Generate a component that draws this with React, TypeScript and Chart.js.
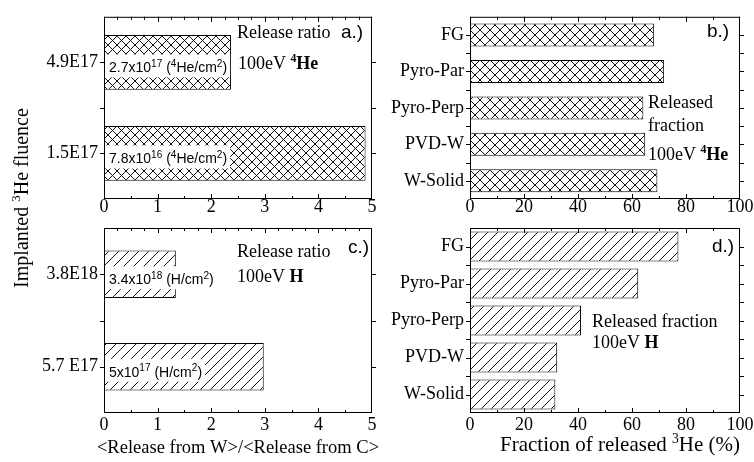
import React, { useEffect, useRef } from 'react';
import { Chart, registerables } from 'chart.js';

Chart.register(...registerables);

// ---------------- data ----------------
const heFluenceLabels = ['4.9E17', '1.5E17'];
const heRatio = [2.37, 4.88];
const heDoseMantissa = ['2.7', '7.8'];
const heDoseExponent = ['17', '16'];

const hFluenceLabels = ['3.8E18', '5.7 E17'];
const hRatio = [1.34, 2.98];
const hDoseMantissa = ['3.4', '5'];
const hDoseExponent = ['18', '17'];

const materials = ['FG', 'Pyro-Par', 'Pyro-Perp', 'PVD-W', 'W-Solid'];
const heFraction = [68.1, 71.9, 64.2, 64.9, 69.4];
const hFraction = [77.2, 62.3, 41.1, 32.3, 31.6];

const ratioTicks = [0, 1, 2, 3, 4, 5];
const fractionTicks = [0, 20, 40, 60, 80, 100];

// ---------------- styling helpers ----------------
const W = 754;
const H = 462;
const SERIF = "'Liberation Serif', 'Times New Roman', serif";
const SANS = "'Liberation Sans', Arial, sans-serif";

type Seg = { t: string; sup?: boolean; bold?: boolean };

function segFont(s: Seg, size: number, family: string, supScale: number) {
  const sz = s.sup ? size * supScale : size;
  return `${s.bold ? 'bold ' : ''}${sz}px ${family}`;
}

function richWidth(ctx: CanvasRenderingContext2D, segs: Seg[], size: number, family: string, supScale = 0.65) {
  let w = 0;
  for (const s of segs) {
    ctx.font = segFont(s, size, family, supScale);
    w += ctx.measureText(s.t).width;
  }
  return w;
}

function drawRich(
  ctx: CanvasRenderingContext2D,
  segs: Seg[],
  x: number,
  y: number,
  size: number,
  family: string,
  align: 'left' | 'center' = 'left',
  supScale = 0.65
) {
  const total = richWidth(ctx, segs, size, family, supScale);
  let cx = align === 'center' ? x - total / 2 : x;
  ctx.textAlign = 'left';
  ctx.textBaseline = 'alphabetic';
  for (const s of segs) {
    ctx.font = segFont(s, size, family, supScale);
    ctx.fillText(s.t, cx, s.sup ? y - size * 0.38 : y);
    cx += ctx.measureText(s.t).width;
  }
  return total;
}

function makeHatch(kind: 'cross' | 'diag', p: number): CanvasPattern {
  const c = document.createElement('canvas');
  c.width = p;
  c.height = p;
  const g = c.getContext('2d') as CanvasRenderingContext2D;
  g.fillStyle = '#ffffff';
  g.fillRect(0, 0, p, p);
  g.strokeStyle = '#111111';
  g.lineWidth = 1;
  g.beginPath();
  g.moveTo(-1, p + 1);
  g.lineTo(p + 1, -1);
  if (kind === 'cross') {
    g.moveTo(-1, -1);
    g.lineTo(p + 1, p + 1);
  }
  g.stroke();
  return g.createPattern(c, 'repeat') as CanvasPattern;
}

interface PanelCfg {
  area: { l: number; t: number; r: number; b: number };
  labels: string[];
  values: number[];
  xTicks: number[];
  minorTop: number;
  minorBottom: number;
  pattern: CanvasPattern;
  barFrac: number;
  tickLineHeight: number;
  draw: (chart: Chart) => void;
  inner?: (chart: Chart) => void;
}

function drawFrame(chart: Chart, cfg: PanelCfg) {
  const ctx = chart.ctx;
  const { left, right, top, bottom } = chart.chartArea;
  const xs: any = chart.scales.x;
  const ys: any = chart.scales.y;
  ctx.save();
  ctx.strokeStyle = '#000';
  ctx.lineWidth = 1;
  ctx.strokeRect(left + 0.5, top + 0.5, right - left - 1, bottom - top - 1);
  ctx.beginPath();
  const step = cfg.xTicks[1] - cfg.xTicks[0];
  const addX = (minor: number, y0: number, dir: number) => {
    const n = Math.round((xs.max - xs.min) / minor);
    for (let k = 0; k <= n; k++) {
      const v = xs.min + k * minor;
      let px = Math.round(xs.getPixelForValue(v)) + 0.5;
      px = Math.min(Math.max(px, left + 0.5), right - 0.5);
      const isMajor = Math.abs(v / step - Math.round(v / step)) < 1e-6;
      const len = isMajor ? 5 : 3;
      ctx.moveTo(px, y0);
      ctx.lineTo(px, y0 + dir * len);
    }
  };
  addX(cfg.minorBottom, bottom, -1);
  addX(cfg.minorTop, top, 1);
  const n = ys.getLabels().length;
  const addY = (py: number) => {
    const y = Math.round(py) + 0.5;
    ctx.moveTo(left, y);
    ctx.lineTo(left - 4, y);
    ctx.moveTo(right, y);
    ctx.lineTo(right + 4, y);
  };
  for (let i = 0; i < n; i++) addY(ys.getPixelForValue(i));
  for (let i = 1; i < n; i++) addY(ys.getPixelForValue(i - 0.5));
  ctx.stroke();
  ctx.restore();
}

function makeChart(canvas: HTMLCanvasElement, cfg: PanelCfg) {
  const a = cfg.area;
  const yW = 90;
  const xH = 30;
  return new Chart(canvas, {
    type: 'bar',
    data: {
      labels: cfg.labels,
      datasets: [
        {
          data: cfg.values,
          backgroundColor: cfg.pattern as any,
          borderColor: '#000',
          borderWidth: 1,
          borderSkipped: false,
          barPercentage: 1,
          categoryPercentage: cfg.barFrac,
        },
      ],
    },
    options: {
      indexAxis: 'y',
      responsive: false,
      animation: false,
      devicePixelRatio: 1,
      layout: {
        padding: { left: a.l - yW, top: a.t, right: W - a.r, bottom: H - a.b - xH },
      },
      plugins: { legend: { display: false }, tooltip: { enabled: false } },
      scales: {
        x: {
          type: 'linear',
          min: cfg.xTicks[0],
          max: cfg.xTicks[cfg.xTicks.length - 1],
          afterBuildTicks: (s: any) => {
            s.ticks = cfg.xTicks.map((v) => ({ value: v }));
          },
          afterFit: (s: any) => {
            s.height = xH;
          },
          grid: { display: false, drawTicks: false },
          border: { display: false },
          ticks: {
            color: '#000',
            font: { family: SERIF, size: 18, lineHeight: cfg.tickLineHeight },
            padding: 0,
            maxRotation: 0,
            minRotation: 0,
            autoSkip: false,
          },
        },
        y: {
          type: 'category',
          afterFit: (s: any) => {
            s.width = yW;
          },
          grid: { display: false, drawTicks: false },
          border: { display: false },
          ticks: {
            color: '#000',
            font: { family: SERIF, size: 18 },
            padding: 6,
            autoSkip: false,
          },
        },
      },
    } as any,
    plugins: [
      {
        id: 'deco',
        afterDatasetsDraw(chart: Chart) {
          if (cfg.inner) cfg.inner(chart);
        },
        afterDraw(chart: Chart) {
          drawFrame(chart, cfg);
          chart.ctx.save();
          chart.ctx.fillStyle = '#000';
          cfg.draw(chart);
          chart.ctx.restore();
        },
      },
    ],
  });
}

function innerLabels(chart: Chart, mant: string[], exps: string[], species: string) {
  const ctx = chart.ctx;
  const xs: any = chart.scales.x;
  const ys: any = chart.scales.y;
  mant.forEach((m, i) => {
    const segs: Seg[] =
      species === 'He'
        ? [
            { t: m + 'x10' },
            { t: exps[i], sup: true },
            { t: ' (' },
            { t: '4', sup: true },
            { t: 'He/cm' },
            { t: '2', sup: true },
            { t: ')' },
          ]
        : [{ t: m + 'x10' }, { t: exps[i], sup: true }, { t: ' (H/cm' }, { t: '2', sup: true }, { t: ')' }];
    const cy = ys.getPixelForValue(i) + 5;
    const x0 = xs.left + 5;
    const w = richWidth(ctx, segs, 14, SANS, 0.72);
    ctx.save();
    ctx.fillStyle = '#fff';
    ctx.fillRect(xs.left + 1, cy - 13, w + 7, 23);
    ctx.fillStyle = '#000';
    drawRich(ctx, segs, x0, cy + 5, 14, SANS, 'left', 0.72);
    ctx.restore();
  });
}

export default function App() {
  const r1 = useRef<HTMLCanvasElement>(null);
  const r2 = useRef<HTMLCanvasElement>(null);
  const r3 = useRef<HTMLCanvasElement>(null);
  const r4 = useRef<HTMLCanvasElement>(null);

  useEffect(() => {
    const cross9 = makeHatch('cross', 9);
    const cross10 = makeHatch('cross', 10);
    const diag10 = makeHatch('diag', 10);

    const charts: Chart[] = [];

    charts.push(
      makeChart(r1.current as HTMLCanvasElement, {
        area: { l: 104, t: 11, r: 372, b: 199 },
        labels: heFluenceLabels,
        values: heRatio,
        xTicks: ratioTicks,
        minorTop: 0.25,
        minorBottom: 0.5,
        pattern: cross9,
        barFrac: 0.6,
        tickLineHeight: 0.95,
        inner: (c) => innerLabels(c, heDoseMantissa, heDoseExponent, 'He'),
        draw: (c) => {
          const ctx = c.ctx;
          drawRich(ctx, [{ t: 'Release ratio' }], 237, 38, 18, SERIF);
          drawRich(ctx, [{ t: 'a.)' }], 341, 38, 19, SANS);
          drawRich(
            ctx,
            [{ t: '100eV ' }, { t: '4', sup: true, bold: true }, { t: 'He', bold: true }],
            238,
            69,
            18,
            SERIF
          );
          ctx.save();
          ctx.translate(28, 198);
          ctx.rotate(-Math.PI / 2);
          drawRich(ctx, [{ t: 'Implanted ' }, { t: '3', sup: true }, { t: 'He fluence' }], 0, 0, 20, SERIF, 'center');
          ctx.restore();
        },
      })
    );

    charts.push(
      makeChart(r2.current as HTMLCanvasElement, {
        area: { l: 470, t: 11, r: 740, b: 199 },
        labels: materials,
        values: heFraction,
        xTicks: fractionTicks,
        minorTop: 10,
        minorBottom: 10,
        pattern: cross10,
        barFrac: 0.63,
        tickLineHeight: 0.95,
        draw: (c) => {
          const ctx = c.ctx;
          drawRich(ctx, [{ t: 'b.)' }], 707, 37, 19, SANS);
          drawRich(ctx, [{ t: 'Released' }], 648, 108, 18, SERIF);
          drawRich(ctx, [{ t: 'fraction' }], 648, 131, 18, SERIF);
          drawRich(
            ctx,
            [{ t: '100eV ' }, { t: '4', sup: true, bold: true }, { t: 'He', bold: true }],
            648,
            160,
            18,
            SERIF
          );
        },
      })
    );

    charts.push(
      makeChart(r3.current as HTMLCanvasElement, {
        area: { l: 104, t: 228, r: 372, b: 413 },
        labels: hFluenceLabels,
        values: hRatio,
        xTicks: ratioTicks,
        minorTop: 0.25,
        minorBottom: 0.5,
        pattern: diag10,
        barFrac: 0.515,
        tickLineHeight: 1.39,
        inner: (c) => innerLabels(c, hDoseMantissa, hDoseExponent, 'H'),
        draw: (c) => {
          const ctx = c.ctx;
          drawRich(ctx, [{ t: 'Release ratio' }], 237, 257, 18, SERIF);
          drawRich(ctx, [{ t: 'c.)' }], 348, 253, 19, SANS);
          drawRich(ctx, [{ t: '100eV ' }, { t: 'H', bold: true }], 237, 282, 18, SERIF);
          drawRich(ctx, [{ t: '<Release from W>/<Release from C>' }], 238, 453, 18.5, SERIF, 'center');
        },
      })
    );

    charts.push(
      makeChart(r4.current as HTMLCanvasElement, {
        area: { l: 470, t: 228, r: 740, b: 413 },
        labels: materials,
        values: hFraction,
        xTicks: fractionTicks,
        minorTop: 10,
        minorBottom: 10,
        pattern: diag10,
        barFrac: 0.81,
        tickLineHeight: 1.39,
        draw: (c) => {
          const ctx = c.ctx;
          drawRich(ctx, [{ t: 'd.)' }], 712, 252, 19, SANS);
          drawRich(ctx, [{ t: 'Released fraction' }], 592, 327, 18, SERIF);
          drawRich(ctx, [{ t: '100eV ' }, { t: 'H', bold: true }], 592, 348, 18, SERIF);
          drawRich(
            ctx,
            [{ t: 'Fraction of released ' }, { t: '3', sup: true }, { t: 'He (%)' }],
            620,
            451,
            21,
            SERIF,
            'center'
          );
        },
      })
    );

    let alive = true;
    if ((document as any).fonts && (document as any).fonts.ready) {
      (document as any).fonts.ready.then(() => {
        if (alive) charts.forEach((c) => c.update());
      });
    }

    return () => {
      alive = false;
      charts.forEach((c) => c.destroy());
    };
  }, []);

  const cs: React.CSSProperties = { position: 'absolute', left: 0, top: 0, width: W, height: H };
  return (
    <div style={{ position: 'fixed', left: 0, top: 0, width: W, height: H, background: '#fff' }}>
      <canvas ref={r1} width={W} height={H} style={cs} />
      <canvas ref={r2} width={W} height={H} style={cs} />
      <canvas ref={r3} width={W} height={H} style={cs} />
      <canvas ref={r4} width={W} height={H} style={cs} />
    </div>
  );
}
